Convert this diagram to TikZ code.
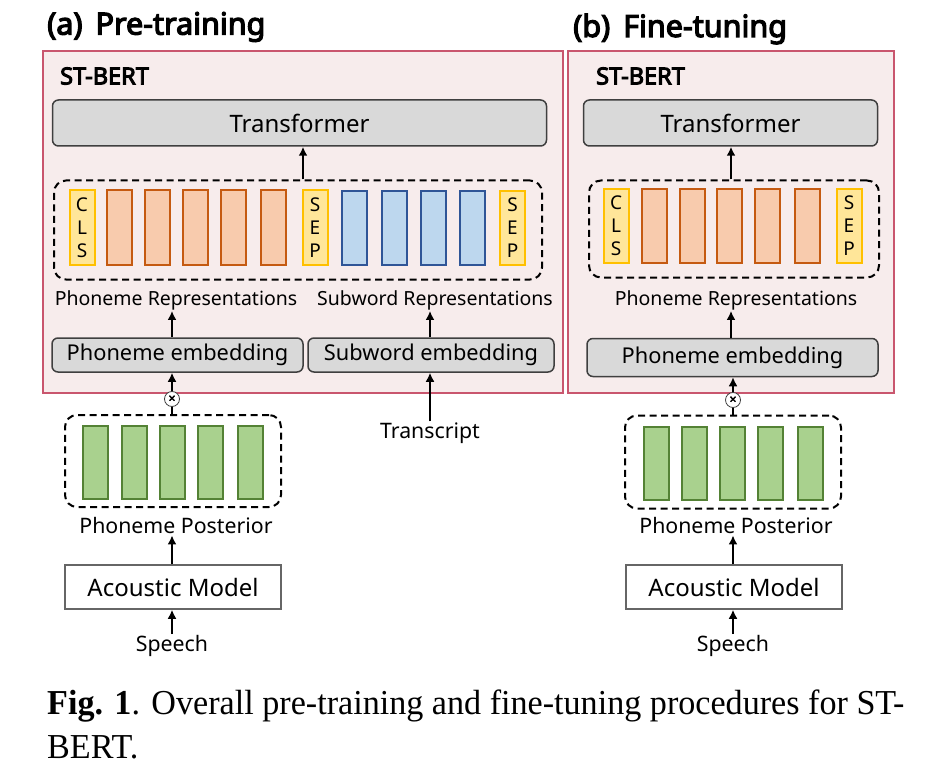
\documentclass[tikz,border=0pt]{standalone}
\usepackage{fontspec}
\setmainfont{Noto Sans}[AutoFakeBold=4]
\newfontfamily\capfont{Liberation Serif}
\usetikzlibrary{arrows.meta,positioning}
\definecolor{pinkfill}{HTML}{F7ECEC}
\definecolor{pinkline}{HTML}{C9566E}
\definecolor{boxgray}{HTML}{D9D9D9}
\definecolor{boxline}{HTML}{3F3F3F}
\definecolor{orfill}{HTML}{F8CBAD}
\definecolor{orline}{HTML}{C55A11}
\definecolor{blfill}{HTML}{BDD7EE}
\definecolor{blline}{HTML}{2F5597}
\definecolor{yefill}{HTML}{FFE699}
\definecolor{yeline}{HTML}{FFC000}
\definecolor{grfill}{HTML}{A9D18E}
\definecolor{grline}{HTML}{548235}
\tikzset{
  panel/.style={draw=pinkline,fill=pinkfill,line width=2pt,inner sep=0},
  graybox/.style={draw=boxline,fill=boxgray,line width=1.5pt,rounded corners=6pt,inner sep=0,font=\fontsize{24}{28}\selectfont},
  dashbox/.style={draw=black,line width=2pt,dash pattern=on 7pt off 4.5pt,rounded corners=12pt,inner sep=0},
  tok/.style={line width=2pt,minimum width=25pt,inner sep=0,font=\fontsize{19}{23}\selectfont,align=center},
  cls/.style={tok,draw=yeline,fill=yefill},
  oran/.style={tok,draw=orline,fill=orfill},
  blu/.style={tok,draw=blline,fill=blfill},
  gre/.style={tok,draw=grline,fill=grfill,minimum height=73pt},
  lbl/.style={inner sep=1pt,font=\fontsize{19.5}{22}\selectfont},
  blbl/.style={inner sep=1pt,font=\fontsize{21.3}{24}\selectfont},
  amodel/.style={draw=gray!80!black,fill=white,line width=1.5pt,inner sep=0,minimum width=216pt,minimum height=44pt,font=\fontsize{24}{28}\selectfont},
  arr/.style={line width=2.2pt,-{Latex[length=9pt,width=9pt]}},
  plain/.style={line width=2.2pt},
  mul/.style={circle,draw=boxline,fill=white,line width=0.8pt,minimum size=15pt,inner sep=0,font=\bfseries\fontsize{12}{12}\selectfont},
  ttl/.style={inner sep=0,anchor=west,font=\bfseries\fontsize{30.5}{33}\selectfont},
  stb/.style={inner sep=0,anchor=west,font=\bfseries\fontsize{23.5}{26}\selectfont}
}
\begin{document}
\begin{tikzpicture}[x=1pt,y=-1pt]
\useasboundingbox (0,0) rectangle (929,778);
% titles
\node[ttl] (ta) at (47,27) {(a)\, Pre-training};
\node[ttl] (tb) at (573,29) {(b)\, Fine-tuning};
% panels
\node[panel,minimum width=520pt,minimum height=341pt] (pL) at (302.5,222) {};
\node[panel,minimum width=326pt,minimum height=341pt] (pR) at (731,222) {};
\node[stb] (sL) at (60,76) {ST-BERT};
\node[stb] (sR) at (596,76) {ST-BERT};
% transformers
\node[graybox,minimum width=494pt,minimum height=46pt] (tfL) at (299.5,123) {Transformer};
\node[graybox,minimum width=294pt,minimum height=46pt] (tfR) at (730.5,123) {Transformer};
% dashed token boxes
\node[dashbox,minimum width=488pt,minimum height=99pt] (dL) at (298,230) {};
\node[dashbox,minimum width=290pt,minimum height=97pt] (dR) at (734,229) {};
% left tokens
\begin{scope}[every node/.append style={minimum height=74pt}]
\node[cls] (l0) at (82,227.5) {C\\L\\S};
\node[oran] (l1) at (119.5,227.5) {};
\node[oran] (l2) at (157,227.5) {};
\node[oran] (l3) at (195.5,227.5) {};
\node[oran] (l4) at (233.5,227.5) {};
\node[oran] (l5) at (273.5,227.5) {};
\node[cls] (l6) at (315,227.5) {S\\E\\P};
\node[blu] (l7) at (354.5,228) {};
\node[blu] (l8) at (394.5,228) {};
\node[blu] (l9) at (433.5,228) {};
\node[blu] (l10) at (472.5,228) {};
\node[cls] (l11) at (512.5,228) {S\\E\\P};
% right tokens
\node[cls] (r0) at (616,226) {C\\L\\S};
\node[oran] (r1) at (654,226) {};
\node[oran] (r2) at (692,226) {};
\node[oran] (r3) at (729,226) {};
\node[oran] (r4) at (767.5,226) {};
\node[oran] (r5) at (807,226) {};
\node[cls] (r6) at (849,226) {S\\E\\P};
\end{scope}
% representation labels
\node[lbl] (prL) at (176,300) {Phoneme Representations};
\node[lbl] (srL) at (435,300) {Subword Representations};
\node[lbl] (prR) at (736,300) {Phoneme Representations};
% embeddings
\node[graybox,minimum width=251pt,minimum height=34pt,font=\fontsize{21.8}{24}\selectfont] (peL) at (177.5,355) {Phoneme embedding};
\node[graybox,minimum width=246pt,minimum height=34pt,font=\fontsize{21.8}{24}\selectfont] (seL) at (431,355) {Subword embedding};
\node[graybox,minimum width=291pt,minimum height=38pt,font=\fontsize{21.8}{24}\selectfont] (peR) at (732.5,357.5) {Phoneme embedding};
% multiply circles
\node[mul] (mL) at (172,399) {×};
\node[mul] (mR) at (733,400) {×};
% transcript
\node[blbl] (trL) at (430,433) {Transcript};
% green dashed boxes
\node[dashbox,minimum width=216pt,minimum height=92pt] (gL) at (173,461) {};
\node[dashbox,minimum width=216pt,minimum height=93pt] (gR) at (733,462) {};
\node[gre] (g1) at (95.5,462) {};
\node[gre] (g2) at (134,462) {};
\node[gre] (g3) at (172,462) {};
\node[gre] (g4) at (210.5,462) {};
\node[gre] (g5) at (250.5,462) {};
\node[gre] (h1) at (656,463.5) {};
\node[gre] (h2) at (694,463.5) {};
\node[gre] (h3) at (732,463.5) {};
\node[gre] (h4) at (770,463.5) {};
\node[gre] (h5) at (810,463.5) {};
% posterior labels
\node[blbl] (ppL) at (176,526) {Phoneme Posterior};
\node[blbl] (ppR) at (736,526) {Phoneme Posterior};
% acoustic models
\node[amodel] (amL) at (173,587) {Acoustic Model};
\node[amodel] (amR) at (734,587) {Acoustic Model};
% speech
\node[blbl] (spL) at (172,646) {Speech};
\node[blbl] (spR) at (733,646) {Speech};
% arrows left
\draw[arr] (dL.north -| 303,0) -- (tfL.south -| 303,0);
\draw[arr] (peL.north -| 172,0) -- (prL.south -| 172,0);
\draw[arr] (seL.north -| 430,0) -- (srL.south -| 430,0);
\draw[arr] (mL.north) -- (peL.south -| mL.north);
\draw[plain] (gL.north -| mL.south) -- (mL.south);
\draw[arr] (trL.north) -- (seL.south -| trL.north);
\draw[arr] (amL.north -| 172,0) -- (ppL.south -| 172,0);
\draw[arr] (spL.north) -- (amL.south -| spL.north);
% arrows right
\draw[arr] (dR.north -| 731,0) -- (tfR.south -| 731,0);
\draw[arr] (peR.north -| 731,0) -- (prR.south -| 731,0);
\draw[arr] (mR.north) -- (peR.south -| mR.north);
\draw[plain] (gR.north -| mR.south) -- (mR.south);
\draw[arr] (amR.north -| 733,0) -- (ppR.south -| 733,0);
\draw[arr] (spR.north) -- (amR.south -| spR.north);
% caption
\node[inner sep=0,anchor=west,font=\capfont\fontsize{35}{40}\selectfont] (cap1) at (47,706) {\scalebox{0.975}[1]{\textbf{Fig. 1}. Overall pre-training and fine-tuning procedures for ST-}};
\node[inner sep=0,anchor=west,font=\capfont\fontsize{35}{40}\selectfont] (cap2) at (47,747) {\scalebox{0.975}[1]{BERT.}};
\end{tikzpicture}
\end{document}
